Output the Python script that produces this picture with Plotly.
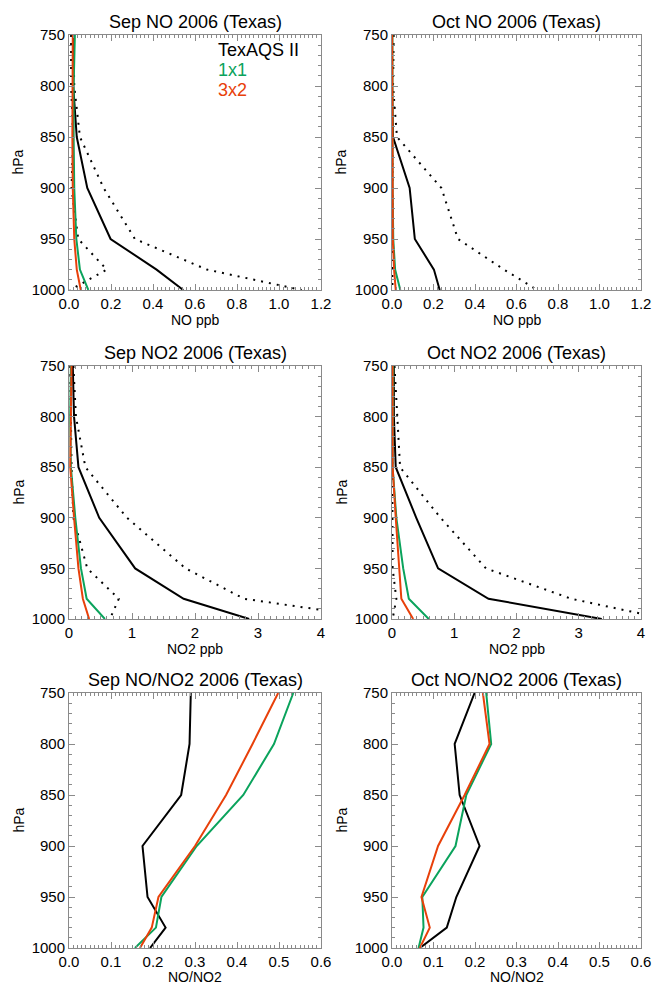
import plotly.graph_objects as go

# ---------------- data ----------------
pressure = [750, 800, 850, 900, 950, 980, 1000]

sep_no_obs = [0.024, 0.020, 0.037, 0.087, 0.198, 0.417, 0.544]
sep_no_hi = [0.020, 0.025, 0.052, 0.165, 0.314, 0.657, 1.108]
sep_no_lo = [0.010, 0.010, 0.020, 0.012, 0.044, 0.180, 0.005]
sep_no_1x1 = [0.028, 0.022, 0.022, 0.025, 0.035, 0.052, 0.092]
sep_no_3x2 = [0.018, 0.016, 0.016, 0.018, 0.025, 0.037, 0.056]

oct_no_obs = [0.000, 0.000, 0.005, 0.085, 0.110, 0.202, 0.230]
oct_no_hi = [0.008, 0.005, 0.024, 0.238, 0.318, 0.540, 0.700]
oct_no_lo = [0.002, 0.002, 0.002, 0.002, 0.002, 0.002, 0.002]
oct_no_1x1 = [0.002, 0.002, 0.002, 0.003, 0.006, 0.015, 0.040]
oct_no_3x2 = [0.001, 0.001, 0.001, 0.002, 0.004, 0.010, 0.018]

sep_no2_obs = [0.06, 0.08, 0.15, 0.48, 1.05, 1.82, 2.86]
sep_no2_hi = [0.07, 0.11, 0.26, 0.92, 1.85, 2.78, 5.00]
sep_no2_lo = [0.02, 0.03, 0.04, 0.07, 0.29, 0.79, 0.65]
sep_no2_1x1 = [0.03, 0.02, 0.03, 0.10, 0.19, 0.28, 0.57]
sep_no2_3x2 = [0.04, 0.03, 0.02, 0.08, 0.15, 0.22, 0.32]

oct_no2_obs = [0.03, 0.03, 0.06, 0.39, 0.74, 1.55, 3.37]
oct_no2_hi = [0.04, 0.08, 0.13, 0.78, 1.51, 2.88, 4.40]
oct_no2_lo = [0.00, 0.00, 0.00, 0.01, 0.01, 0.07, 0.01]
oct_no2_1x1 = [0.02, 0.01, 0.01, 0.07, 0.18, 0.27, 0.59]
oct_no2_3x2 = [0.01, 0.01, 0.01, 0.06, 0.12, 0.15, 0.34]

sep_ratio_obs = [0.290, 0.287, 0.267, 0.175, 0.187, 0.230, 0.193]
sep_ratio_1x1 = [0.534, 0.488, 0.415, 0.304, 0.220, 0.207, 0.157]
sep_ratio_3x2 = [0.498, 0.437, 0.374, 0.300, 0.213, 0.197, 0.169]

oct_ratio_obs = [0.199, 0.151, 0.163, 0.211, 0.155, 0.132, 0.067]
oct_ratio_1x1 = [0.227, 0.239, 0.179, 0.153, 0.073, 0.076, 0.064]
oct_ratio_3x2 = [0.219, 0.235, 0.175, 0.111, 0.071, 0.091, 0.067]

titles = ["Sep NO 2006 (Texas)", "Oct NO 2006 (Texas)",
          "Sep NO2 2006 (Texas)", "Oct NO2 2006 (Texas)",
          "Sep NO/NO2 2006 (Texas)", "Oct NO/NO2 2006 (Texas)"]
xtitles = ["NO ppb", "NO ppb", "NO2 ppb", "NO2 ppb", "NO/NO2", "NO/NO2"]
legend_labels = ["TexAQS II", "1x1", "3x2"]

# ---------------- style ----------------
W, H = 653, 982
FONT = "Liberation Sans, Arial, sans-serif"
BLACK = "#000000"
GREEN = "#0aa35c"
RED = "#e8400a"
BOX = "#8a8a8a"

# panel positions in page pixels
col_px = [(69, 321), (392, 641)]
row_px = [(35, 290), (366, 619), (693, 948)]
xtitle_off = [30, 30, 29]

panels = [
    dict(obs=sep_no_obs, hi=sep_no_hi, lo=sep_no_lo, m1=sep_no_1x1, m2=sep_no_3x2,
         xr=[0, 1.2], dt=0.2, mdt=0.02, fmt=".1f"),
    dict(obs=oct_no_obs, hi=oct_no_hi, lo=oct_no_lo, m1=oct_no_1x1, m2=oct_no_3x2,
         xr=[0, 1.2], dt=0.2, mdt=0.02, fmt=".1f"),
    dict(obs=sep_no2_obs, hi=sep_no2_hi, lo=sep_no2_lo, m1=sep_no2_1x1, m2=sep_no2_3x2,
         xr=[0, 4], dt=1, mdt=0.1, fmt=".0f"),
    dict(obs=oct_no2_obs, hi=oct_no2_hi, lo=oct_no2_lo, m1=oct_no2_1x1, m2=oct_no2_3x2,
         xr=[0, 4], dt=1, mdt=0.1, fmt=".0f"),
    dict(obs=sep_ratio_obs, hi=None, lo=None, m1=sep_ratio_1x1, m2=sep_ratio_3x2,
         xr=[0, 0.6], dt=0.1, mdt=0.01, fmt=".1f"),
    dict(obs=oct_ratio_obs, hi=None, lo=None, m1=oct_ratio_1x1, m2=oct_ratio_3x2,
         xr=[0, 0.6], dt=0.1, mdt=0.01, fmt=".1f"),
]

fig = go.Figure()
annotations = []
layout_axes = {}

def py(y):
    return 1 - y / H

def px_(x):
    return x / W

for i, pan in enumerate(panels):
    n = i + 1
    r, c = divmod(i, 2)
    x0, x1 = col_px[c]
    y0, y1 = row_px[r]
    xa = "x" if n == 1 else f"x{n}"
    ya = "y" if n == 1 else f"y{n}"

    dot = dict(color=BLACK, width=2, dash="2px,6px")
    if pan["hi"] is not None:
        fig.add_trace(go.Scatter(x=pan["hi"], y=pressure, mode="lines", line=dot,
                                 xaxis=xa, yaxis=ya, showlegend=False))
        fig.add_trace(go.Scatter(x=pan["lo"], y=pressure, mode="lines", line=dot,
                                 xaxis=xa, yaxis=ya, showlegend=False))
    fig.add_trace(go.Scatter(x=pan["obs"], y=pressure, mode="lines",
                             line=dict(color=BLACK, width=2),
                             xaxis=xa, yaxis=ya, showlegend=False))
    fig.add_trace(go.Scatter(x=pan["m1"], y=pressure, mode="lines",
                             line=dict(color=GREEN, width=2),
                             xaxis=xa, yaxis=ya, showlegend=False))
    fig.add_trace(go.Scatter(x=pan["m2"], y=pressure, mode="lines",
                             line=dict(color=RED, width=2),
                             xaxis=xa, yaxis=ya, showlegend=False))

    xkey = "xaxis" if n == 1 else f"xaxis{n}"
    ykey = "yaxis" if n == 1 else f"yaxis{n}"
    layout_axes[xkey] = dict(
        domain=[px_(x0), px_(x1)], anchor=ya, range=pan["xr"], automargin=False,
        dtick=pan["dt"], tick0=0, tickformat=pan["fmt"], ticklabeloverflow="allow",
        ticks="inside", ticklen=6, tickwidth=1, tickcolor=BOX,
        showline=True, linecolor=BOX, linewidth=1, mirror="ticks",
        showgrid=False, zeroline=False,
        minor=dict(dtick=pan["mdt"], tick0=0, ticks="inside", ticklen=3,
                   tickcolor=BOX, showgrid=False),
        tickfont=dict(family=FONT, size=15, color=BLACK),
    )
    layout_axes[ykey] = dict(
        domain=[py(y1), py(y0)], anchor=xa, range=[1000, 750], automargin=False,
        dtick=50, tick0=750,
        ticks="inside", ticklen=6, tickwidth=1, tickcolor=BOX,
        showline=True, linecolor=BOX, linewidth=1, mirror="ticks",
        showgrid=False, zeroline=False,
        minor=dict(dtick=10, tick0=750, ticks="inside", ticklen=3,
                   tickcolor=BOX, showgrid=False),
        tickfont=dict(family=FONT, size=15, color=BLACK),
    )

    cx = (x0 + x1) / 2
    annotations.append(dict(text=titles[i], x=px_(cx), y=py(y0 - 13), xref="paper",
                            yref="paper", showarrow=False, xanchor="center",
                            yanchor="middle", font=dict(family=FONT, size=18, color=BLACK)))
    annotations.append(dict(text=xtitles[i], x=px_(cx), y=py(y1 + xtitle_off[r]), xref="paper",
                            yref="paper", showarrow=False, xanchor="center",
                            yanchor="middle", font=dict(family=FONT, size=14, color=BLACK)))
    annotations.append(dict(text="hPa", x=px_(x0 - 51), y=py((y0 + y1) / 2), xref="paper",
                            yref="paper", showarrow=False, xanchor="center",
                            yanchor="middle", textangle=-90,
                            font=dict(family=FONT, size=14, color=BLACK)))

leg_colors = [BLACK, GREEN, RED]
leg_y = [50, 70, 90]
for lab, col, yy in zip(legend_labels, leg_colors, leg_y):
    annotations.append(dict(text=lab, x=px_(216), y=py(yy), xref="paper", yref="paper",
                            showarrow=False, xanchor="left", yanchor="middle",
                            font=dict(family=FONT, size=18, color=col)))

fig.update_layout(
    template="none",
    width=W, height=H,
    margin=dict(l=0, r=0, t=0, b=0, pad=0),
    paper_bgcolor="white", plot_bgcolor="white",
    showlegend=False,
    hovermode=False,
    annotations=annotations,
    font=dict(family=FONT, color=BLACK),
    **layout_axes,
)

fig.write_html("out.html",
               config={"displayModeBar": False, "staticPlot": True},
               post_script="document.body.style.margin='0px';document.body.style.overflow='hidden';")
